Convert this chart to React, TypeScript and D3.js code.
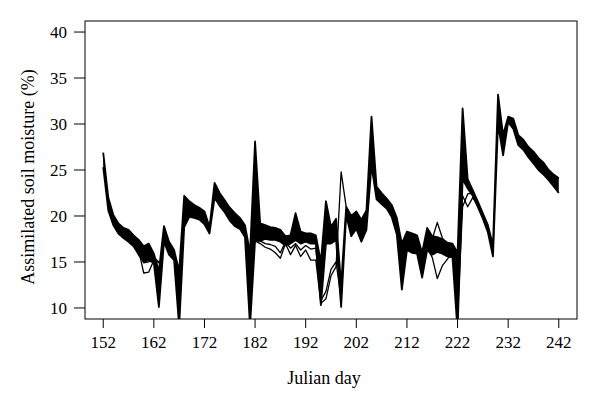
import React from "react";
import * as d3 from "d3";

const FIRST_DAY = 152;
const LAST_DAY = 242;

// Upper envelope of the ensemble (days 152..242)
const upperEnv = [
  26.9, 22.0, 20.1, 19.2, 18.7, 18.5, 17.9, 17.4, 16.7, 17.0, // 152-161
  15.9, 14.0, 18.9, 17.2, 16.3, 14.0, 22.2, 21.6, 21.2, 20.9, // 162-171
  20.5, 18.8, 23.6, 22.5, 21.7, 20.9, 20.3, 19.8, 19.0, 16.0, // 172-181
  28.1, 19.2, 19.0, 18.8, 18.7, 18.5, 17.8, 17.9, 20.3, 18.3, // 182-191
  18.1, 18.1, 17.9, 15.0, 21.6, 18.8, 19.7, 12.5, 21.0, 20.0, // 192-201
  20.5, 19.6, 20.6, 30.8, 23.2, 22.5, 21.9, 21.2, 19.8, 17.0, // 202-211
  18.3, 18.1, 17.9, 16.0, 18.7, 17.8, 17.7, 17.5, 17.1, 17.0, // 212-221
  16.0, 31.7, 24.0, 22.8, 21.6, 20.3, 19.0, 16.8, 33.2, 28.8, // 222-231
  30.8, 30.6, 28.8, 28.3, 27.5, 27.0, 26.3, 25.8, 25.0, 24.5, // 232-241
  24.1,                                                       // 242
];

// Lower envelope of the ensemble (days 152..242)
const lowerEnv = [
  25.3, 20.6, 19.0, 18.1, 17.6, 17.2, 16.7, 15.8, 15.0, 15.2, // 152-161
  14.9, 10.1, 17.2, 15.8, 15.2, 8.0, 18.8, 19.9, 19.8, 19.6,  // 162-171
  19.1, 18.1, 22.0, 21.1, 20.4, 19.5, 18.9, 18.6, 17.7, 8.0,  // 172-181
  17.3, 17.3, 17.5, 17.4, 17.4, 17.2, 16.8, 17.0, 17.4, 17.0, // 182-191
  17.2, 17.0, 17.0, 10.3, 17.0, 17.0, 17.4, 10.1, 20.1, 17.8, // 192-201
  18.6, 17.2, 18.5, 25.5, 21.8, 21.3, 20.8, 19.9, 18.0, 12.0, // 202-211
  16.3, 16.0, 15.9, 13.3, 16.3, 15.8, 16.1, 15.9, 15.6, 15.5, // 212-221
  7.5, 24.0, 23.0, 22.2, 21.0, 19.7, 18.2, 15.6, 30.0, 26.6,  // 222-231
  30.2, 29.5, 27.7, 27.2, 26.4, 25.7, 25.0, 24.5, 23.9, 23.2, // 232-241
  22.5,                                                       // 242
];

// Individual ensemble members that stray outside the main band
const loopA = { start: 158, values: [16.9, 16.3, 13.8, 13.9, 15.2, 14.9] };
const loopB = { start: 158, values: [17.0, 16.5, 14.9, 15.0, 15.5, 15.0] };
const lowA = {
  start: 182,
  values: [17.3, 17.0, 16.6, 16.4, 16.0, 15.4, 17.0, 15.8, 16.8, 15.6, 16.3, 15.2, 15.2, 10.5, 11.0, 13.5, 14.5, 24.8, 21.0],
};
const lowB = {
  start: 182,
  values: [17.3, 17.3, 17.0, 16.9, 16.7, 16.0, 17.2, 16.5, 17.0, 16.3, 16.8, 16.4, 16.5, 10.8, 11.8, 14.2, 15.0, 11.0, 20.5],
};
const lateA = { start: 216, values: [16.5, 15.5, 13.2, 14.6, 15.3, 16.0] };
const lateB = { start: 216, values: [17.0, 17.5, 19.3, 17.6, 16.8] };
const fanA = { start: 222, values: [9.0, 21.0, 22.4, 22.5, 21.3] };
const fanB = { start: 222, values: [11.0, 22.2, 21.0, 22.0, 21.2] };

const members = [loopA, loopB, lowA, lowB, lateA, lateB, fanA, fanB];

const xTicks = [152, 162, 172, 182, 192, 202, 212, 222, 232, 242];
const yTicks = [10, 15, 20, 25, 30, 35, 40];

const W = 600;
const H = 409;
const left = 85;
const right = 577;
const top = 21;
const bottom = 319;

export default function App() {
  const days = d3.range(FIRST_DAY, LAST_DAY + 1);
  const x = d3.scaleLinear().domain([148.4, 245.6]).range([left, right]);
  const y = d3.scaleLinear().domain([8.8, 41.2]).range([bottom, top]);

  const band = days.map((d, i) => ({ d, lo: lowerEnv[i], hi: upperEnv[i] }));
  const area = d3
    .area<any>()
    .x((p) => x(p.d))
    .y0((p) => y(p.lo))
    .y1((p) => y(p.hi));
  const lineHi = d3
    .line<any>()
    .x((p) => x(p.d))
    .y((p) => y(p.hi));
  const lineLo = d3
    .line<any>()
    .x((p) => x(p.d))
    .y((p) => y(p.lo));
  const memberLine = d3
    .line<[number, number]>()
    .x((p) => x(p[0]))
    .y((p) => y(p[1]));

  const font = "'Liberation Serif', 'Times New Roman', serif";

  return (
    <svg
      width={W}
      height={H}
      style={{ position: "absolute", left: 0, top: 0, background: "#fff" }}
      fontFamily={font}
    >
      <defs>
        <clipPath id="plotclip">
          <rect x={left} y={top} width={right - left} height={bottom - top} />
        </clipPath>
      </defs>
      <g clipPath="url(#plotclip)">
        <path d={area(band) || ""} fill="#000" stroke="none" />
        <path d={lineHi(band) || ""} fill="none" stroke="#000" strokeWidth={1.8} strokeLinejoin="round" />
        <path d={lineLo(band) || ""} fill="none" stroke="#000" strokeWidth={1.8} strokeLinejoin="round" />
        {members.map((m, k) => (
          <path
            key={k}
            d={memberLine(m.values.map((v, i) => [m.start + i, v] as [number, number])) || ""}
            fill="none"
            stroke="#000"
            strokeWidth={1.3}
            strokeLinejoin="round"
          />
        ))}
      </g>
      <rect x={left} y={top} width={right - left} height={bottom - top} fill="none" stroke="#000" strokeWidth={1} />
      {xTicks.map((t) => (
        <g key={t} transform={`translate(${x(t)},${bottom})`}>
          <line y1={0} y2={9} stroke="#000" strokeWidth={1} />
          <text y={29} textAnchor="middle" fontSize={17} fill="#000">
            {t}
          </text>
        </g>
      ))}
      {yTicks.map((t) => (
        <g key={t} transform={`translate(${left},${y(t)})`}>
          <line x1={0} x2={-11} stroke="#000" strokeWidth={1} />
          <text x={-18} dy="0.35em" textAnchor="end" fontSize={17} fill="#000">
            {t}
          </text>
        </g>
      ))}
      <text x={324} y={384} textAnchor="middle" fontSize={18} fill="#000">
        Julian day
      </text>
      <text
        transform={`translate(34,${177}) rotate(-90)`}
        textAnchor="middle"
        fontSize={18}
        fill="#000"
      >
        Assimilated soil moisture (%)
      </text>
    </svg>
  );
}
